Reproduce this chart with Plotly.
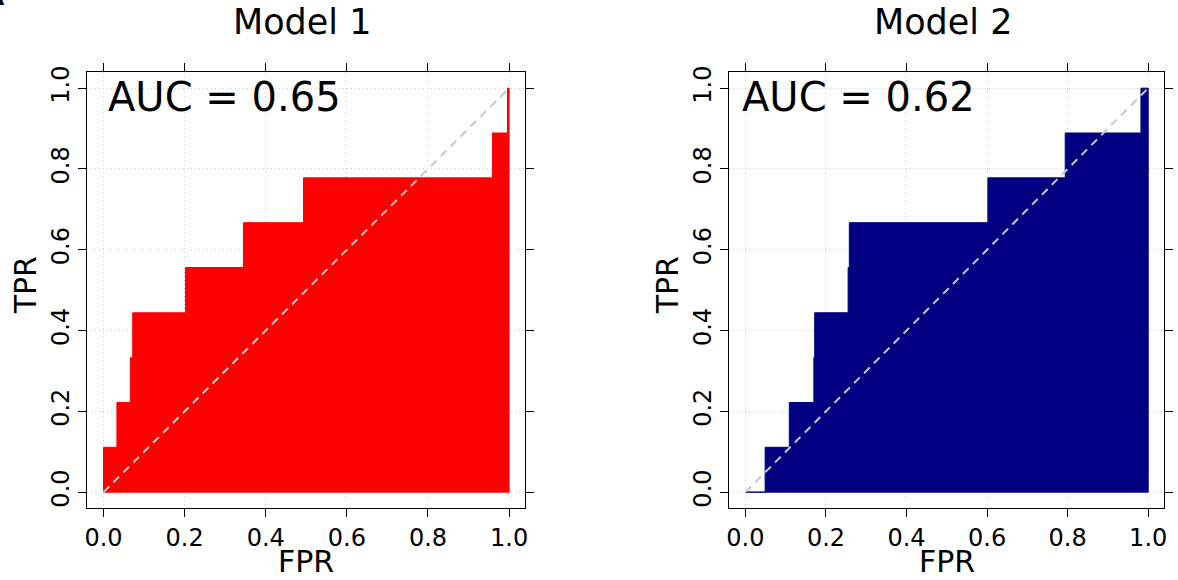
import plotly.graph_objects as go

W, H = 1178, 580

# ---- data (ROC staircase corners) ----
m1_fpr = [0.0, 0.0, 0.033, 0.033, 0.066, 0.066, 0.072, 0.072, 0.202, 0.202,
          0.345, 0.345, 0.493, 0.493, 0.959, 0.959, 0.996, 0.996, 1.0]
m1_tpr = [0.0, 0.111, 0.111, 0.222, 0.222, 0.333, 0.333, 0.444, 0.444, 0.556,
          0.556, 0.667, 0.667, 0.778, 0.778, 0.889, 0.889, 1.0, 1.0]

m2_fpr = [0.0, 0.049, 0.049, 0.109, 0.109, 0.170, 0.170, 0.172, 0.172, 0.255,
          0.255, 0.258, 0.258, 0.602, 0.602, 0.794, 0.794, 0.982, 0.982, 1.0]
m2_tpr = [0.0, 0.0, 0.111, 0.111, 0.222, 0.222, 0.333, 0.333, 0.444, 0.444,
          0.556, 0.556, 0.667, 0.667, 0.778, 0.778, 0.889, 0.889, 1.0, 1.0]

titles = ["Model 1", "Model 2"]
auc_labels = ["AUC = 0.65", "AUC = 0.62"]
fill_colors = ["#FF0000", "#000080"]
tick_vals = [0.0, 0.2, 0.4, 0.6, 0.8, 1.0]
tick_text = ["0.0", "0.2", "0.4", "0.6", "0.8", "1.0"]
diag = [0.0, 1.0]

# ---- layout geometry (pixels) ----
boxes = [(87.3, 525.3), (729.3, 1164.3)]
box_top, box_bot = 72.0, 508.3

def px(x):
    return x / W

def py(y):
    return 1 - y / H

FONT = "DejaVu Sans, Verdana, sans-serif"

fig = go.Figure()
series = [(m1_fpr, m1_tpr), (m2_fpr, m2_tpr)]
for i, (fx, ty) in enumerate(series):
    xa = "x" if i == 0 else "x2"
    ya = "y" if i == 0 else "y2"
    poly_x = list(fx) + [1.0, 0.0]
    poly_y = list(ty) + [0.0, 0.0]
    fig.add_trace(go.Scatter(
        x=poly_x, y=poly_y, mode="lines", fill="toself",
        fillcolor=fill_colors[i],
        line=dict(color=fill_colors[i], width=1),
        xaxis=xa, yaxis=ya, showlegend=False, hoverinfo="skip"))
    fig.add_trace(go.Scatter(
        x=diag, y=diag, mode="lines",
        line=dict(color="#c8c8c8", width=2, dash="8px,6px"),
        xaxis=xa, yaxis=ya, showlegend=False, hoverinfo="skip"))

def axis_common():
    return dict(
        range=[-0.04, 1.04], tickvals=tick_vals, ticktext=tick_text,
        showline=True, linecolor="black", linewidth=1, mirror="ticks",
        ticks="outside", ticklen=8, tickwidth=1, tickcolor="black",
        showgrid=True, gridcolor="#cccccc", gridwidth=1, griddash="1px,3px",
        zeroline=False, automargin=False,
        tickfont=dict(family=FONT, size=24, color="black"),
    )

ydom = [py(box_bot), py(box_top)]
fig.update_layout(
    width=W, height=H,
    margin=dict(l=0, r=0, t=0, b=0),
    paper_bgcolor="white", plot_bgcolor="white",
    xaxis=dict(domain=[px(boxes[0][0]), px(boxes[0][1])], anchor="y", **axis_common()),
    yaxis=dict(domain=ydom, anchor="x", tickangle=-90, **axis_common()),
    xaxis2=dict(domain=[px(boxes[1][0]), px(boxes[1][1])], anchor="y2", **axis_common()),
    yaxis2=dict(domain=ydom, anchor="x2", tickangle=-90, **axis_common()),
)

ann = []
for i, (l, r) in enumerate(boxes):
    cx = (l + r) / 2
    ann.append(dict(text=titles[i], x=px(cx - 4), y=py(22), xref="paper", yref="paper",
                    xanchor="center", yanchor="middle", showarrow=False,
                    font=dict(family=FONT, size=35, color="black")))
    ann.append(dict(text="FPR", x=px(l + 16.2 + 0.5 * (r - l) / 1.08), y=py(561),
                    xref="paper", yref="paper", xanchor="center", yanchor="middle",
                    showarrow=False, font=dict(family=FONT, size=30, color="black")))
    ann.append(dict(text="TPR", x=px(l - 62), y=py(285), xref="paper", yref="paper",
                    xanchor="center", yanchor="middle", textangle=-90, showarrow=False,
                    font=dict(family=FONT, size=30, color="black")))
    ann.append(dict(text=auc_labels[i], x=px(l + (19 if i == 0 else 11)), y=py(97),
                    xref="paper", yref="paper", xanchor="left", yanchor="middle",
                    showarrow=False, font=dict(family=FONT, size=40, color="black")))
ann.append(dict(text="<b>A</b>", x=px(7), y=py(14), xref="paper", yref="paper",
                xanchor="right", yanchor="bottom", showarrow=False,
                font=dict(family=FONT, size=30, color="black")))
fig.update_layout(annotations=ann)

fig.write_html("out.html", config={"displayModeBar": False})

# remove the browser's default 8px body margin so the figure sits at (0, 0)
with open("out.html", "r", encoding="utf-8") as f:
    html = f.read()
html = html.replace("<body>", '<body style="margin:0;padding:0;overflow:hidden">', 1)
with open("out.html", "w", encoding="utf-8") as f:
    f.write(html)
